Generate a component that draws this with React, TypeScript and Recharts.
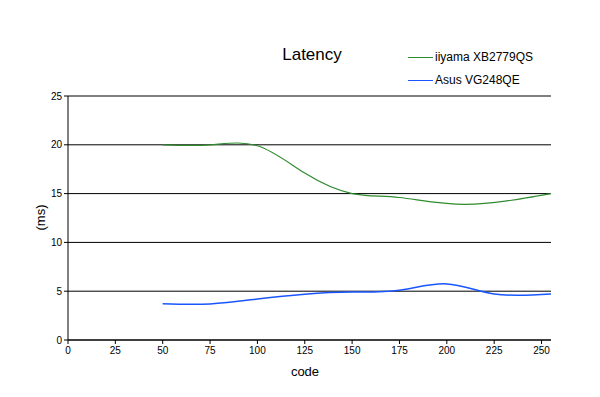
import React from 'react'
import { LineChart, Line, XAxis, YAxis, CartesianGrid } from 'recharts'

const greenCodes = [50, 75, 100, 125, 150, 175, 210, 255]
const iiyama = [20, 20, 19.9, 17.1, 15, 14.6, 13.9, 15]
const blueCodes = [50, 75, 100, 125, 150, 175, 200, 225, 255]
const asus = [3.72, 3.7, 4.2, 4.7, 4.92, 5.1, 5.75, 4.72, 4.72]
const xTicks = [0, 25, 50, 75, 100, 125, 150, 175, 200, 225, 250]
const yTicks = [0, 5, 10, 15, 20, 25]

const greenData = greenCodes.map((code, i) => ({ code, iiyama: iiyama[i] }))
const blueData = blueCodes.map((code, i) => ({ code, asus: asus[i] }))

const FONT = 'Arial, "Liberation Sans", sans-serif'
const tickStyle = { fontSize: 10, fill: '#000', fontFamily: FONT }
const GREEN = '#2e8b2e'
const BLUE = '#1a56ff'

export default function App() {
  return (
    <div style={{ position: 'absolute', left: 0, top: 0, width: 600, height: 397, background: '#fff', fontFamily: FONT }}>
      <LineChart width={600} height={397} margin={{ top: 96, right: 49, bottom: 27, left: 0 }}>
        <CartesianGrid vertical={false} stroke="#000" strokeWidth={1} />
        <XAxis
          dataKey="code"
          type="number"
          domain={[0, 255]}
          ticks={xTicks}
          interval={0}
          allowDataOverflow
          allowDuplicatedCategory={false}
          height={30}
          stroke="#000"
          tickSize={4}
          tickMargin={3}
          tick={tickStyle}
        />
        <YAxis
          type="number"
          domain={[0, 25]}
          ticks={yTicks}
          interval={0}
          width={68}
          stroke="#000"
          tickSize={4}
          tickMargin={2}
          tick={tickStyle}
        />
        <Line data={greenData} type="natural" dataKey="iiyama" stroke={GREEN} strokeWidth={1.2} dot={false} isAnimationActive={false} />
        <Line data={blueData} type="natural" dataKey="asus" stroke={BLUE} strokeWidth={1.5} dot={false} isAnimationActive={false} />
      </LineChart>
      <div style={{ position: 'absolute', left: 262, top: 45, width: 100, textAlign: 'center', fontSize: 17 }}>Latency</div>
      <div style={{ position: 'absolute', left: 408, top: 50, fontSize: 12, lineHeight: '14px' }}>
        <span style={{ position: 'absolute', left: 0, top: 7, width: 25, height: 1, background: GREEN }} />
        <span style={{ marginLeft: 27 }}>iiyama XB2779QS</span>
      </div>
      <div style={{ position: 'absolute', left: 408, top: 73, fontSize: 12, lineHeight: '14px' }}>
        <span style={{ position: 'absolute', left: 0, top: 7, width: 25, height: 1, background: BLUE }} />
        <span style={{ marginLeft: 27 }}>Asus VG248QE</span>
      </div>
      <div style={{ position: 'absolute', left: 20, top: 210, width: 40, textAlign: 'center', fontSize: 13, transform: 'rotate(-90deg)' }}>(ms)</div>
      <div style={{ position: 'absolute', left: 280, top: 364, width: 50, textAlign: 'center', fontSize: 13 }}>code</div>
    </div>
  )
}
